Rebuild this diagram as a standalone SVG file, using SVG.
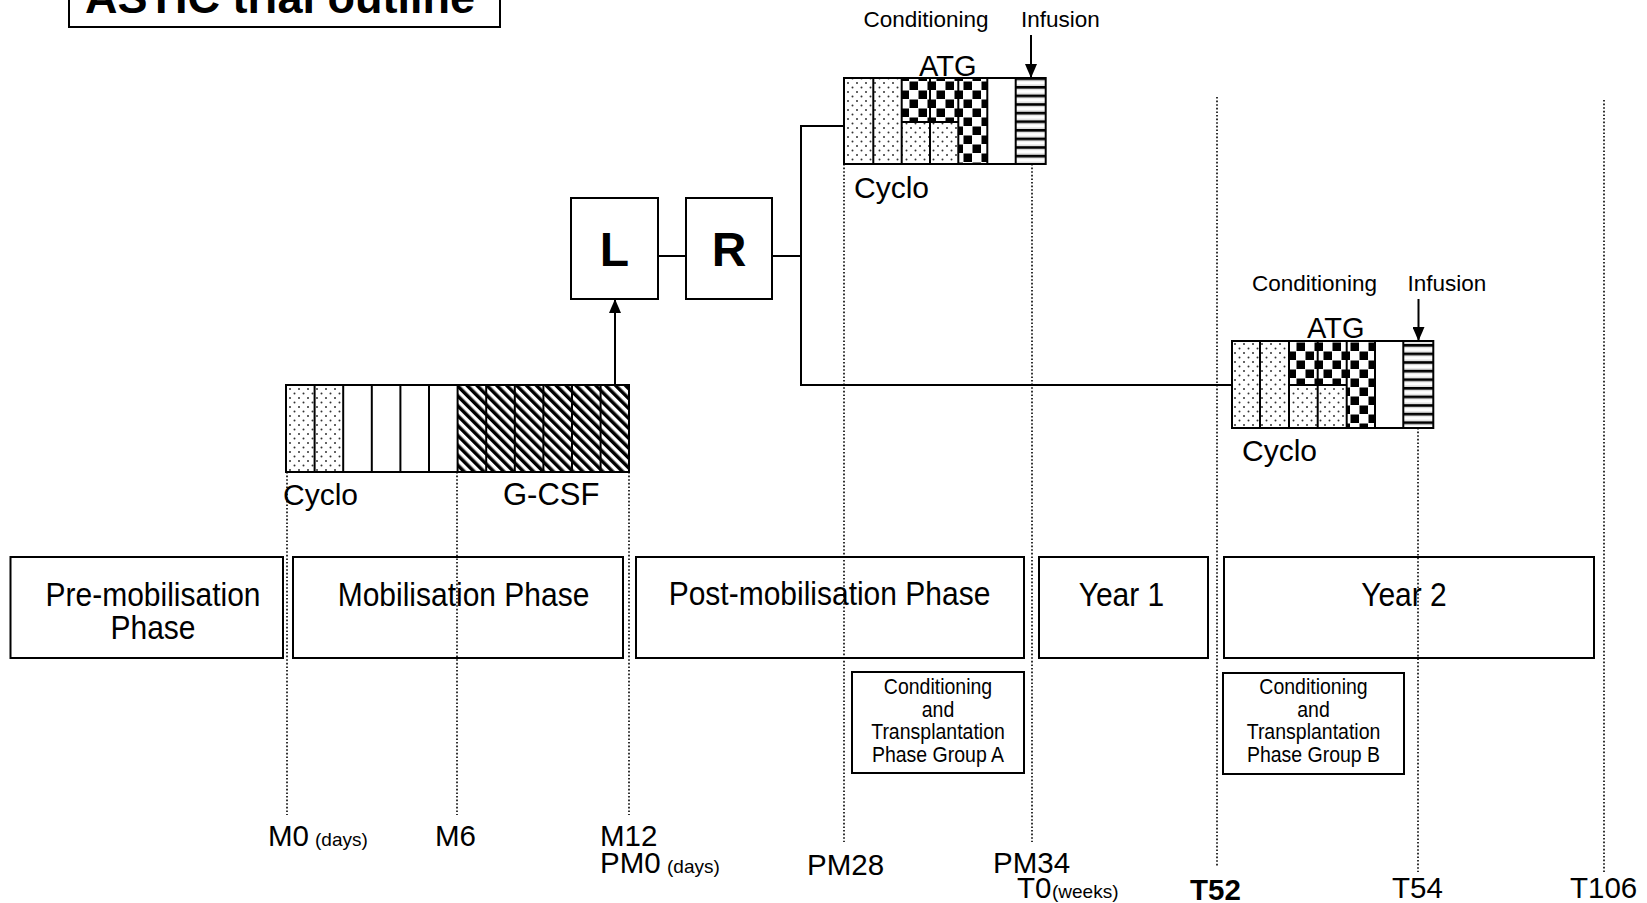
<svg xmlns="http://www.w3.org/2000/svg" width="1647" height="903" viewBox="0 0 1647 903">
<defs>
<pattern id="dots" width="9" height="9" patternUnits="userSpaceOnUse">
<rect width="9" height="9" fill="#fff"/>
<circle cx="2" cy="2" r="1" fill="#333"/>
<circle cx="6.5" cy="6.5" r="1" fill="#333"/>
</pattern>
<pattern id="check" width="18" height="18" patternUnits="userSpaceOnUse">
<rect width="18" height="18" fill="#fff"/>
<rect x="0.5" y="0.5" width="8.5" height="8.5" fill="#000"/>
<rect x="9.5" y="9.5" width="8.5" height="8.5" fill="#000"/>
</pattern>
<pattern id="diag" width="7" height="7" patternUnits="userSpaceOnUse" patternTransform="rotate(-45)">
<rect width="7" height="7" fill="#fff"/>
<rect x="0" y="0" width="3.5" height="7" fill="#000"/>
</pattern>
<pattern id="hstripe" width="8" height="8.6" patternUnits="userSpaceOnUse">
<rect width="8" height="8.6" fill="#ddd"/>
<rect x="0" y="0" width="8" height="2.6" fill="#000"/>
<rect x="0" y="4" width="8" height="3" fill="#fff"/>
</pattern>
<marker id="arr" markerWidth="14" markerHeight="12" refX="14" refY="6" orient="auto" markerUnits="userSpaceOnUse" viewBox="0 0 14 12">
<path d="M0,0 L14,6 L0,12 Z" fill="#000"/>
</marker>
</defs>
<style>
text{font-family:"Liberation Sans",Arial,sans-serif;fill:#000}
.box{fill:none;stroke:#000;stroke-width:2}
.cell{stroke:#000;stroke-width:2}
.ln{fill:none;stroke:#000;stroke-width:2}
.dot{fill:none;stroke:#000;stroke-width:1.6;stroke-dasharray:1.6 2}
.ph{font-size:30px;text-anchor:middle}
.sm{font-size:19.5px;text-anchor:middle}
.lab{font-size:22.5px}
.big{font-size:30px}
.tk{font-size:29.5px}
.un{font-size:19px}
.lr{font-size:48px;font-weight:bold;text-anchor:middle}
</style>
<rect width="1647" height="903" fill="#fff"/>

<g id="title">
<rect x="69" y="-10" width="431" height="37" class="box"/>
<text x="85" y="13" style="font-size:45px;font-weight:bold">ASTIC trial outline</text>
</g>

<g id="timeline">
<line x1="287" y1="472" x2="287" y2="815" class="dot"/>
<line x1="457" y1="472" x2="457" y2="815" class="dot"/>
<line x1="629" y1="472" x2="629" y2="815" class="dot"/>
<line x1="844" y1="164" x2="844" y2="842" class="dot"/>
<line x1="1032" y1="164" x2="1032" y2="842" class="dot"/>
<line x1="1217" y1="97" x2="1217" y2="867" class="dot"/>
<line x1="1418" y1="428" x2="1418" y2="872" class="dot"/>
<line x1="1604" y1="100" x2="1604" y2="872" class="dot"/>
</g>

<g id="mobilisation-block">
<rect x="286" y="385" width="57.2" height="87" fill="url(#dots)"/>
<rect x="457.6" y="385" width="171.4" height="87" fill="url(#diag)"/>
<g class="cell">
<line x1="314.6" y1="385" x2="314.6" y2="472"/>
<line x1="343.2" y1="385" x2="343.2" y2="472"/>
<line x1="371.8" y1="385" x2="371.8" y2="472"/>
<line x1="400.4" y1="385" x2="400.4" y2="472"/>
<line x1="429" y1="385" x2="429" y2="472"/>
<line x1="457.6" y1="385" x2="457.6" y2="472"/>
<line x1="486.2" y1="385" x2="486.2" y2="472"/>
<line x1="514.8" y1="385" x2="514.8" y2="472"/>
<line x1="543.4" y1="385" x2="543.4" y2="472"/>
<line x1="572" y1="385" x2="572" y2="472"/>
<line x1="600.6" y1="385" x2="600.6" y2="472"/>
</g>
<rect x="286" y="385" width="343" height="87" class="box"/>
<text x="283" y="505" class="big">Cyclo</text>
<text x="503" y="505" style="font-size:31px">G-CSF</text>
</g>

<g id="node-L">
<rect x="571" y="198" width="87" height="101" class="box" fill="#fff"/>
<text x="614.5" y="266" class="lr">L</text>
</g>
<g id="node-R">
<rect x="686" y="198" width="86" height="101" class="box" fill="#fff"/>
<text x="729" y="266" class="lr">R</text>
</g>

<g id="connectors">
<line x1="615" y1="385" x2="615" y2="299" class="ln" marker-end="url(#arr)"/>
<line x1="658" y1="256" x2="686" y2="256" class="ln"/>
<polyline points="772,256 801,256" class="ln"/>
<polyline points="844,126 801,126 801,385 1232,385" class="ln"/>
<line x1="1031" y1="35" x2="1031" y2="78" class="ln" marker-end="url(#arr)"/>
<line x1="1418.5" y1="299" x2="1418.5" y2="341" class="ln" marker-end="url(#arr)"/>
</g>

<g id="conditioning-block-A">
<rect x="844" y="78" width="57.7" height="86" fill="url(#dots)"/>
<rect x="901.7" y="122" width="56.6" height="42" fill="url(#dots)"/>
<rect x="901.7" y="78" width="56.6" height="44" fill="url(#check)"/>
<rect x="958.3" y="78" width="29" height="86" fill="url(#check)"/>
<rect x="1015.7" y="78" width="30" height="86" fill="url(#hstripe)"/>
<g class="cell">
<line x1="873.3" y1="78" x2="873.3" y2="164"/>
<line x1="901.7" y1="78" x2="901.7" y2="164"/>
<line x1="930" y1="78" x2="930" y2="164"/>
<line x1="958.3" y1="78" x2="958.3" y2="164"/>
<line x1="987.3" y1="78" x2="987.3" y2="164"/>
<line x1="1015.7" y1="78" x2="1015.7" y2="164"/>
<line x1="901.7" y1="122" x2="958.3" y2="122"/>
</g>
<rect x="844" y="78" width="201.7" height="86" class="box"/>
<text x="863.5" y="27" class="lab">Conditioning</text>
<text x="1021" y="27" class="lab">Infusion</text>
<text x="919" y="76" style="font-size:29px">ATG</text>
<text x="854" y="198" class="big">Cyclo</text>
</g>

<g id="conditioning-block-B">
<rect x="1232" y="341" width="57" height="87" fill="url(#dots)"/>
<rect x="1289" y="385" width="57.7" height="43" fill="url(#dots)"/>
<rect x="1289" y="341" width="57.7" height="44" fill="url(#check)"/>
<rect x="1346.7" y="341" width="28.3" height="87" fill="url(#check)"/>
<rect x="1403.3" y="341" width="30" height="87" fill="url(#hstripe)"/>
<g class="cell">
<line x1="1260" y1="341" x2="1260" y2="428"/>
<line x1="1289" y1="341" x2="1289" y2="428"/>
<line x1="1317.7" y1="341" x2="1317.7" y2="428"/>
<line x1="1346.7" y1="341" x2="1346.7" y2="428"/>
<line x1="1375" y1="341" x2="1375" y2="428"/>
<line x1="1403.3" y1="341" x2="1403.3" y2="428"/>
<line x1="1289" y1="385" x2="1346.7" y2="385"/>
</g>
<rect x="1232" y="341" width="201.3" height="87" class="box"/>
<text x="1252" y="291" class="lab">Conditioning</text>
<text x="1407.5" y="291" class="lab">Infusion</text>
<text x="1307" y="338" style="font-size:29px">ATG</text>
<text x="1242" y="461" class="big">Cyclo</text>
</g>

<g id="phase-pre">
<rect x="10.5" y="557" width="272.5" height="101" class="box"/>
<text transform="translate(153,606) scale(1,1.1)" class="ph">Pre-mobilisation</text>
<text transform="translate(153,639) scale(1,1.1)" class="ph">Phase</text>
</g>
<g id="phase-mob">
<rect x="293" y="557" width="330" height="101" class="box"/>
<text transform="translate(463.5,606) scale(1,1.1)" class="ph">Mobilisation Phase</text>
</g>
<g id="phase-post">
<rect x="636" y="557" width="388" height="101" class="box"/>
<text transform="translate(829.5,605) scale(1,1.1)" class="ph">Post-mobilisation Phase</text>
</g>
<g id="phase-year1">
<rect x="1039" y="557" width="169" height="101" class="box"/>
<text transform="translate(1121.5,606) scale(1,1.1)" class="ph">Year 1</text>
</g>
<g id="phase-year2">
<rect x="1224" y="557" width="370" height="101" class="box"/>
<text transform="translate(1404,606) scale(1,1.1)" class="ph">Year 2</text>
</g>

<g id="group-A">
<rect x="852" y="672" width="172" height="101" class="box"/>
<text transform="translate(938,694) scale(1,1.1)" class="sm">Conditioning</text>
<text transform="translate(938,716.5) scale(1,1.1)" class="sm">and</text>
<text transform="translate(938,739) scale(1,1.1)" class="sm">Transplantation</text>
<text transform="translate(938,761.5) scale(1,1.1)" class="sm">Phase Group A</text>
</g>
<g id="group-B">
<rect x="1223" y="673" width="181" height="101" class="box"/>
<text transform="translate(1313.5,694) scale(1,1.1)" class="sm">Conditioning</text>
<text transform="translate(1313.5,716.5) scale(1,1.1)" class="sm">and</text>
<text transform="translate(1313.5,739) scale(1,1.1)" class="sm">Transplantation</text>
<text transform="translate(1313.5,761.5) scale(1,1.1)" class="sm">Phase Group B</text>
</g>

<g id="ticks">
<text x="268" y="846" class="tk">M0</text>
<text x="315" y="846" class="un">(days)</text>
<text x="435" y="846" class="tk">M6</text>
<text x="600" y="846" class="tk">M12</text>
<text x="600" y="873" class="tk">PM0</text>
<text x="667" y="873" class="un">(days)</text>
<text x="807" y="875" class="tk">PM28</text>
<text x="993" y="873" class="tk">PM34</text>
<text x="1017" y="898" class="tk">T0</text>
<text x="1052" y="898" class="un">(weeks)</text>
<text x="1190" y="900" class="tk" style="font-weight:bold">T52</text>
<text x="1392" y="898" class="tk">T54</text>
<text x="1570" y="898" class="tk">T106</text>
</g>
</svg>
